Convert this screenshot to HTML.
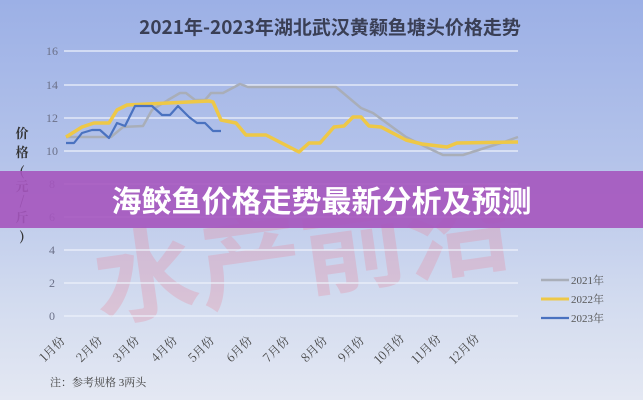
<!DOCTYPE html>
<html><head><meta charset="utf-8"><style>
html,body{margin:0;padding:0}
body{width:643px;height:400px;overflow:hidden;position:relative;background:linear-gradient(180deg,#9cb0e6 0%,#b4c3ea 40%,#d2dbef 75%,#e4e8f3 100%);font-family:"Liberation Sans","Noto Sans CJK SC",sans-serif}
svg{position:absolute;left:0;top:0}
.banner{position:absolute;left:0;top:171px;width:643px;height:57px;background:rgba(165,85,190,0.9);color:#fff;font-weight:bold;font-size:30px;text-align:center;line-height:57px;font-family:"Noto Sans CJK SC",sans-serif}
</style></head><body>
<svg width="643" height="400" viewBox="0 0 643 400" font-family="Liberation Serif, Noto Serif CJK SC, serif">
<text x="300" y="290" font-size="100" font-weight="bold" fill="#e88aa0" opacity="0.3" text-anchor="middle" font-family="Noto Sans CJK SC, sans-serif" textLength="420" lengthAdjust="spacingAndGlyphs" transform="rotate(-8 300 240)">水产前沿</text>
<text x="330" y="34" font-size="19" fill="#3a3f55" text-anchor="middle" font-family="Noto Sans CJK SC, sans-serif" font-weight="bold">2021年-2023年湖北武汉黄颡鱼塘头价格走势</text>
<g stroke="#eef2fb" stroke-width="1.2">
<line x1="64" y1="51" x2="518" y2="51"/><line x1="64" y1="85" x2="518" y2="85"/><line x1="64" y1="118" x2="518" y2="118"/><line x1="64" y1="151" x2="518" y2="151"/><line x1="64" y1="184" x2="518" y2="184"/><line x1="64" y1="217" x2="518" y2="217"/><line x1="64" y1="250" x2="518" y2="250"/><line x1="64" y1="283" x2="518" y2="283"/><line x1="64" y1="316" x2="518" y2="316"/>
</g>
<g font-size="12" fill="#6b7088" text-anchor="middle">
<text x="52" y="55">16</text><text x="52" y="89">14</text><text x="52" y="122">12</text><text x="52" y="155">10</text><text x="52" y="188">8</text><text x="52" y="221">6</text><text x="52" y="254">4</text><text x="52" y="287">2</text><text x="52" y="320">0</text>
</g>
<g font-size="13" fill="#333" text-anchor="middle" font-family="Noto Serif CJK SC, serif" font-weight="bold">
<text x="22" y="138">价</text><text x="22" y="157">格</text><text x="22" y="176">(</text><text x="22" y="191">元</text><text x="22" y="205">/</text><text x="22" y="222">斤</text><text x="22" y="241">)</text>
</g>
<polyline fill="none" stroke="#a9aeb8" stroke-width="2.5" stroke-linejoin="round" points="66,137 111,137 123,127 143,126 152,110 168,100 180,93 186,93 195,100 205,100 211,93 223,93 240,84 248,87 336,87 361,108 373,113 406,137 426,147 443,155 463,155 488,147 504,142 518,137"/>
<polyline fill="none" stroke="#eec847" stroke-width="3.5" stroke-linejoin="round" points="66,137 82,127 94,123 109,123 117,110 127,105 209,101 213,102 221,120 236,123 246,135 266,135 299,152 309,143 320,143 334,127 344,126 353,117 361,117 369,126 381,127 406,140 422,144 447,147 457,143 518,142"/>
<polyline fill="none" stroke="#4a72c0" stroke-width="2.2" stroke-linejoin="round" points="66,143 74,143 82,133 92,130 100,130 109,138 117,123 125,126 135,106 152,106 162,115 170,115 178,106 189,117 197,123 205,123 213,131 221,131"/>
<g font-size="12" fill="#444" font-family="Noto Serif CJK SC, serif">
<text transform="translate(55,352) rotate(-45)" text-anchor="middle">1月份</text>
<text transform="translate(92,352) rotate(-45)" text-anchor="middle">2月份</text>
<text transform="translate(129,352) rotate(-45)" text-anchor="middle">3月份</text>
<text transform="translate(167,352) rotate(-45)" text-anchor="middle">4月份</text>
<text transform="translate(204,352) rotate(-45)" text-anchor="middle">5月份</text>
<text transform="translate(242,352) rotate(-45)" text-anchor="middle">6月份</text>
<text transform="translate(279,352) rotate(-45)" text-anchor="middle">7月份</text>
<text transform="translate(317,352) rotate(-45)" text-anchor="middle">8月份</text>
<text transform="translate(354,352) rotate(-45)" text-anchor="middle">9月份</text>
<text transform="translate(392,352) rotate(-45)" text-anchor="middle">10月份</text>
<text transform="translate(429,352) rotate(-45)" text-anchor="middle">11月份</text>
<text transform="translate(467,352) rotate(-45)" text-anchor="middle">12月份</text>
</g>
<line x1="541" y1="280" x2="569" y2="280" stroke="#a9aeb8" stroke-width="2.5"/>
<line x1="541" y1="299" x2="569" y2="299" stroke="#eec847" stroke-width="3"/>
<line x1="541" y1="318" x2="569" y2="318" stroke="#4a72c0" stroke-width="2.2"/>
<g font-size="11" fill="#555"><text x="571" y="284">2021年</text><text x="571" y="303">2022年</text><text x="571" y="322">2023年</text></g>
<text x="50" y="386" font-size="11" fill="#444">注：参考规格  3两头</text>
</svg>
<div class="banner">海鲛鱼价格走势最新分析及预测</div>
</body></html>
